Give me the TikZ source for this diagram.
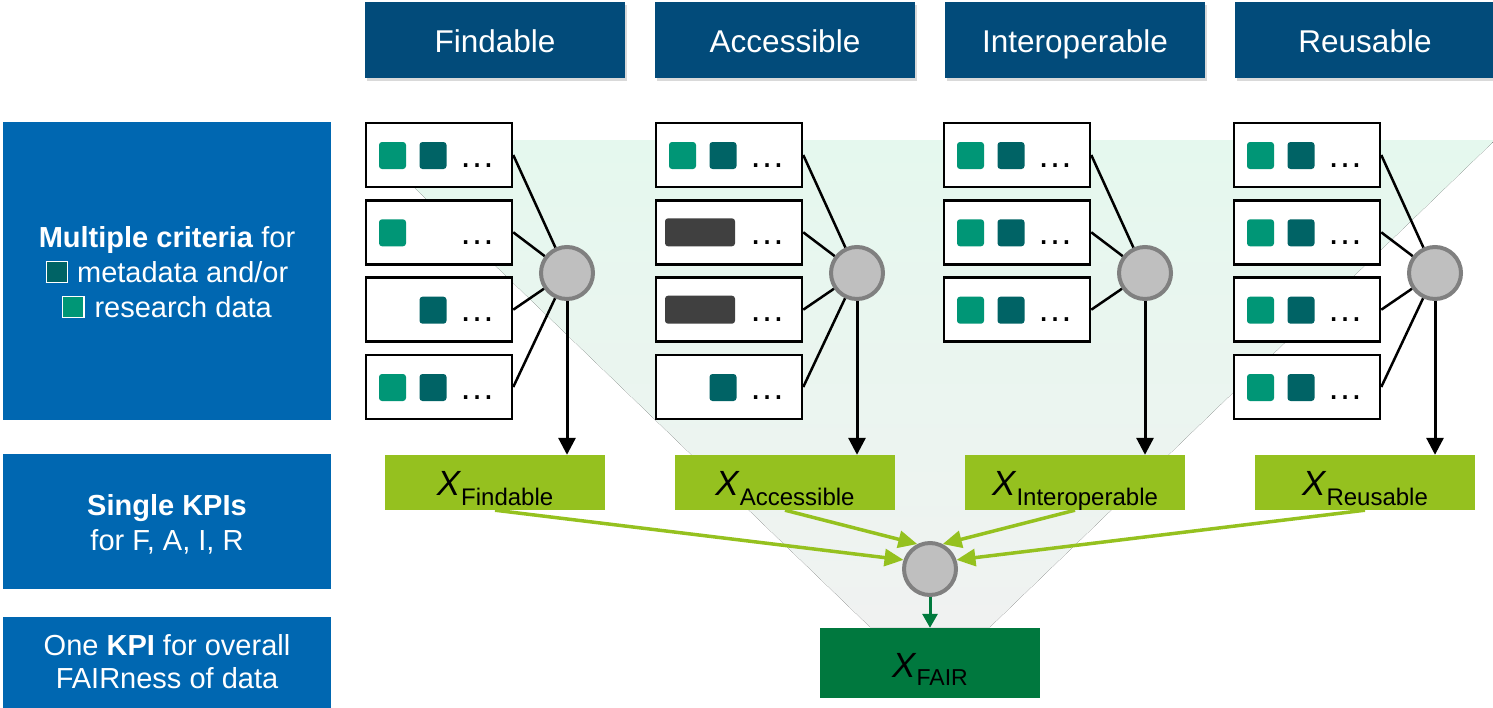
\documentclass[tikz,border=0pt]{standalone}
\usepackage{fontspec}
\setmainfont{Liberation Sans}
\usetikzlibrary{arrows.meta,shadows}

\definecolor{hdrblue}{RGB}{2,75,122}
\definecolor{sideblue}{RGB}{0,103,177}
\definecolor{lteal}{RGB}{0,150,118}
\definecolor{dteal}{RGB}{0,99,101}
\definecolor{bargray}{RGB}{64,64,64}
\definecolor{hubfill}{RGB}{191,191,191}
\definecolor{hubline}{RGB}{128,128,128}
\definecolor{kpigreen}{RGB}{149,193,31}
\definecolor{fairgreen}{RGB}{0,120,62}
\definecolor{fairarrow}{RGB}{0,122,61}
\definecolor{funneltop}{RGB}{229,248,238}
\definecolor{funnelbot}{RGB}{240,242,241}

% one criteria box: name, left x, top y, light square?, dark square?, wide bar?
\newcommand\critrow[6]{%
  \node[critbox] (#1) at (#2+74,#3+33) {};
  \ifnum#4=1 \node[lsq] (#1l) at (#2+27.5,#3+33.5) {};\fi
  \ifnum#5=1 \node[dsq] (#1d) at (#2+68,#3+33.5) {};\fi
  \ifnum#6=1 \node[dbar] (#1b) at (#2+45,#3+33) {};\fi
  \node[ellip] (#1t) at (#2+94,#3+45) {…};
}
% KPI symbol with lowered index
\newcommand\kpix[2]{\textit{X}\raisebox{-#2}{\fontsize{24}{24}\selectfont #1}}
% small coloured legend square
\newcommand\legendsq[1]{{\setlength\fboxsep{0pt}\setlength\fboxrule{1.2pt}%
  \fcolorbox{white}{#1}{\rule{0pt}{20pt}\rule{20pt}{0pt}}}}

\begin{document}
\begin{tikzpicture}[x=1pt,y=-1pt,
  hdrbox/.style={fill=hdrblue, text=white, minimum width=260pt, minimum height=76pt,
    inner sep=0pt, text height=25pt, text depth=0pt, font=\fontsize{31.5}{36}\selectfont,
    drop shadow={shadow xshift=2pt, shadow yshift=-3pt, opacity=0.3}},
  sidebox/.style={fill=sideblue, inner sep=0pt, minimum width=328pt},
  sidetext/.style={text=white, anchor=base, inner sep=0pt, font=\fontsize{29}{34}\selectfont},
  critbox/.style={draw=black, line width=2.5pt, fill=white, minimum width=146pt,
    minimum height=64pt, inner sep=0pt},
  lsq/.style={fill=lteal, rounded corners=3pt, minimum size=27pt, inner sep=0pt},
  dsq/.style={fill=dteal, rounded corners=3pt, minimum size=27pt, inner sep=0pt},
  dbar/.style={fill=bargray, rounded corners=3pt, minimum width=70pt, minimum height=28pt, inner sep=0pt},
  ellip/.style={anchor=base west, inner sep=0pt, font=\fontsize{36}{36}\selectfont},
  hub/.style={circle, fill=hubfill, draw=hubline, line width=4pt, minimum size=52pt, inner sep=0pt},
  feed/.style={draw=black, line width=2.5pt},
  feeddown/.style={draw=black, line width=3pt, -{Triangle[width=17pt,length=17pt]}},
  kpi/.style={fill=kpigreen, minimum width=220pt, minimum height=55pt, inner sep=0pt},
  kpilbl/.style={anchor=base, inner sep=0pt, font=\fontsize{35}{40}\selectfont},
  kpiflow/.style={draw=kpigreen, line width=3.5pt, -{Triangle[width=17pt,length=19pt]}},
  fairbox/.style={fill=fairgreen, minimum width=220pt, minimum height=70pt, inner sep=0pt},
  fairflow/.style={draw=fairarrow, line width=3pt, -{Triangle[width=15pt,length=14pt]}}
]
\useasboundingbox (0,0) rectangle (1493,707);

% funnel in the background
\fill[top color=funneltop, bottom color=funnelbot]
  (365,140) -- (1495,140) -- (990,627) -- (870,627) -- cycle;

% row captions on the left
\node[sidebox, minimum height=298pt] (s1) at (167,271) {};
\node[sidetext] (s1a) at (167,247) {\textbf{Multiple criteria} for};
\node[sidetext] (s1b) at (167,282) {\legendsq{dteal}\hspace{9pt}metadata and/or};
\node[sidetext] (s1c) at (167,317) {\legendsq{lteal}\hspace{10pt}research data};

\node[sidebox, minimum height=135pt] (s2) at (167,521.5) {};
\node[sidetext] (s2a) at (167,515) {\textbf{Single KPIs}};
\node[sidetext] (s2b) at (167,550) {for F, A, I, R};

\node[sidebox, minimum height=92pt] (s3) at (167,663) {};
\node[sidetext] (s3a) at (167,655) {One \textbf{KPI} for overall};
\node[sidetext] (s3b) at (167,688.5) {FAIRness of data};

% column headers
\node[hdrbox] (hF) at (495,40) {Findable};
\node[hdrbox] (hA) at (785,40) {Accessible};
\node[hdrbox] (hI) at (1075,40) {Interoperable};
\node[hdrbox] (hR) at (1365,40) {Reusable};

% criteria boxes
\critrow{cF1}{365}{122}{1}{1}{0}
\critrow{cF2}{365}{199.3}{1}{0}{0}
\critrow{cF3}{365}{276.7}{0}{1}{0}
\critrow{cF4}{365}{354}{1}{1}{0}

\critrow{cA1}{655}{122}{1}{1}{0}
\critrow{cA2}{655}{199.3}{0}{0}{1}
\critrow{cA3}{655}{276.7}{0}{0}{1}
\critrow{cA4}{655}{354}{0}{1}{0}

\critrow{cI1}{943}{122}{1}{1}{0}
\critrow{cI2}{943}{199.3}{1}{1}{0}
\critrow{cI3}{943}{276.7}{1}{1}{0}

\critrow{cR1}{1233}{122}{1}{1}{0}
\critrow{cR2}{1233}{199.3}{1}{1}{0}
\critrow{cR3}{1233}{276.7}{1}{1}{0}
\critrow{cR4}{1233}{354}{1}{1}{0}

% aggregation points per principle
\node[hub] (gF) at (567,273) {};
\node[hub] (gA) at (857,273) {};
\node[hub] (gI) at (1145,273) {};
\node[hub] (gR) at (1435,273) {};

\foreach \c/\n in {F/4, A/4, I/3, R/4} {
  \foreach \r in {1,...,\n}
    \draw[feed] (c\c\r.east) -- (g\c);
}

% single KPIs
\node[kpi] (kF) at (495,482.5) {};
\node[kpi] (kA) at (785,482.5) {};
\node[kpi] (kI) at (1075,482.5) {};
\node[kpi] (kR) at (1365,482.5) {};
\node[kpilbl] (kFt) at ([yshift=-12.5pt]kF.center) {\kpix{Findable}{10pt}};
\node[kpilbl] (kAt) at ([yshift=-12.5pt]kA.center) {\kpix{Accessible}{10pt}};
\node[kpilbl] (kIt) at ([yshift=-12.5pt]kI.center) {\kpix{Interoperable}{10pt}};
\node[kpilbl] (kRt) at ([yshift=-12.5pt]kR.center) {\kpix{Reusable}{10pt}};

\foreach \c in {F,A,I,R}
  \draw[feeddown] (g\c) -- (g\c |- k\c.north);

% overall KPI
\node[hub] (gX) at (930,569) {};
\node[fairbox] (xf) at (930,663) {};
\node[kpilbl] (xft) at ([yshift=-14pt]xf.center) {\textit{X}\raisebox{-8pt}{\fontsize{23}{23}\selectfont FAIR}};

\draw[kpiflow] (kF.south) -- (gX.161);
\draw[kpiflow] (kA.south) -- (gX.117);
\draw[kpiflow] (kI.south) -- (gX.63);
\draw[kpiflow] (kR.south) -- (gX.19);
\draw[fairflow] (gX) -- (xf);
\end{tikzpicture}
\end{document}
